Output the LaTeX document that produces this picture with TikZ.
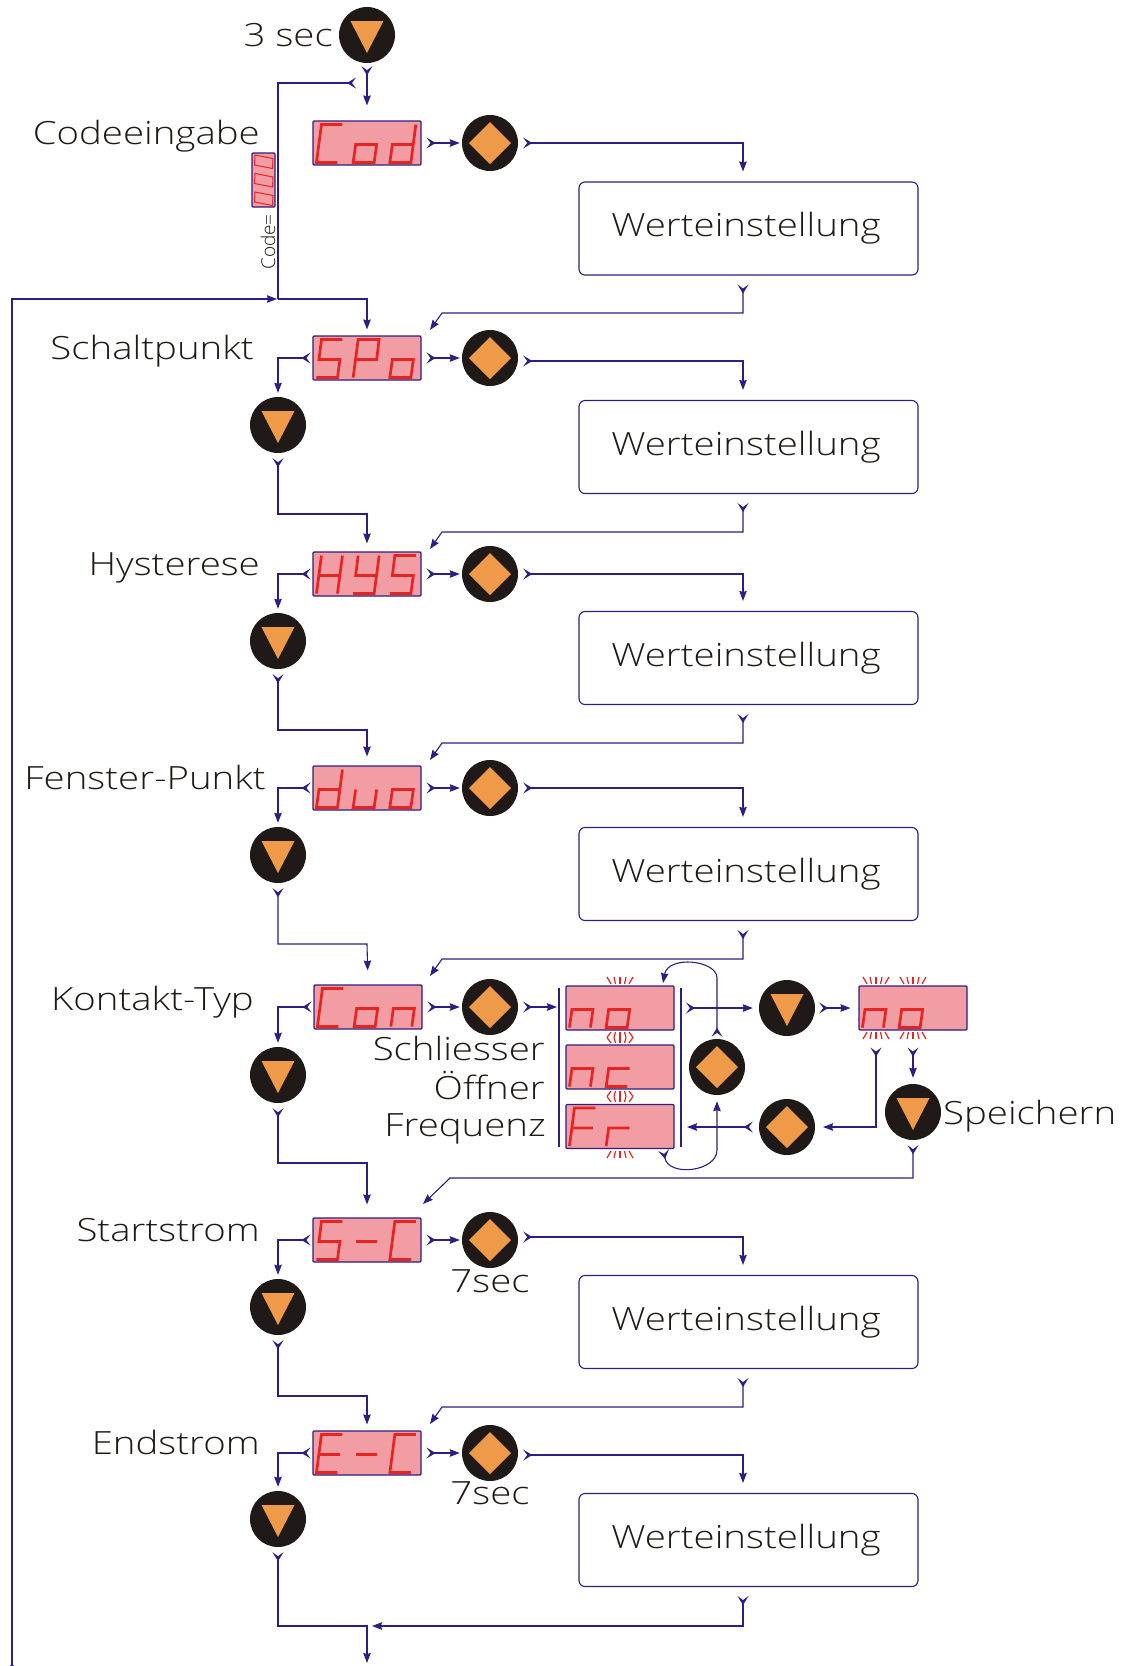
\documentclass[tikz,border=0pt]{standalone}
\usepackage{fontspec}
\setmainfont{Open Sans}[UprightFont=* Light,FakeStretch=1.2]
\newfontfamily\plainfont{Open Sans}[UprightFont=* Light]
\usetikzlibrary{arrows.meta,calc}
\definecolor{navycol}{HTML}{2B1F82}
\definecolor{pinkcol}{HTML}{F29CA3}
\definecolor{segcol}{HTML}{E52521}
\definecolor{markcol}{HTML}{EF9A49}
\definecolor{btncol}{HTML}{1F1A17}
\definecolor{txtcol}{HTML}{1F1A17}
\tikzset{
  tailtip/.tip = {Stealth[reversed,length=9pt,width=11pt,inset=4pt]},
  headtip/.tip = {Stealth[length=10pt,width=7.5pt,inset=1pt]},
  flow/.style = {navycol, line width=1.1pt, tailtip-headtip,
    shorten <=4pt, shorten >=3pt},
  flowhead/.style = {navycol, line width=1.1pt, -headtip, shorten >=3pt},
  flowtail/.style = {navycol, line width=1.1pt, tailtip-, shorten <=4pt},
  dsp/.style = {rectangle, draw=navycol, fill=pinkcol, line width=1.1pt,
    rounded corners=1pt, minimum width=108pt, minimum height=44pt, inner sep=0pt,
    text opacity=0, font=\fontsize{22}{22}\selectfont},
  segline/.style = {segcol, line width=2.7pt},
  blinkline/.style = {segcol, line width=1.2pt},
  btn/.style = {circle, fill=btncol, minimum size=56pt, inner sep=0pt},
  btnset/.style = {btn, path picture={\fill[markcol] (path picture bounding box.center)
    ++(-21,0) -- ++(21,-21) -- ++(21,21) -- ++(-21,21) -- cycle;}},
  btndown/.style = {btn, path picture={\fill[markcol] (path picture bounding box.center)
    ++(-16.5,-14) -- ++(33,0) -- ++(-16.5,32) -- cycle;}},
  box/.style = {rectangle, draw=navycol, line width=1.1pt, rounded corners=6pt,
    minimum width=339pt, minimum height=93pt, inner sep=0pt, text=txtcol,
    font=\fontsize{32}{32}\selectfont},
  lbl/.style = {inner sep=0pt, text=txtcol, font=\fontsize{32}{32}\selectfont}
}
% one digit of a display, corners named for the segments
\newcommand{\segcell}[3]{\begin{scope}[shift={($(#1.south west)+(#2,-3)$)}]
  \coordinate (tl) at (5,-38); \coordinate (tr) at (26,-38);
  \coordinate (ml) at (2.5,-18); \coordinate (mr) at (23.5,-18);
  \coordinate (bl) at (0,0); \coordinate (br) at (21,0);
  \draw[segline] #3;
\end{scope}}
\newcommand{\segword}[4]{\segcell{#1}{4}{#2}\segcell{#1}{40.7}{#3}\segcell{#1}{77.4}{#4}}
\newcommand{\segC}{(tr)--(tl)--(bl)--(br)}
\newcommand{\sego}{(ml)--(mr)--(br)--(bl)--cycle}
\newcommand{\segd}{(tr)--(br)--(bl)--(ml)--(mr)}
\newcommand{\segS}{(tr)--(tl)--(ml)--(mr)--(br)--(bl)}
\newcommand{\segP}{(bl)--(tl)--(tr)--(mr)--(ml)}
\newcommand{\segH}{(tl)--(bl) (tr)--(br) (ml)--(mr)}
\newcommand{\segY}{(tl)--(ml)--(mr) (tr)--(br)--(bl)}
\newcommand{\segu}{(ml)--(bl)--(br)--(mr)}
\newcommand{\segn}{(bl)--(ml)--(mr)--(br)}
\newcommand{\segc}{(mr)--(ml)--(bl)--(br)}
\newcommand{\segF}{(bl)--(tl)--(tr) (ml)--(mr)}
\newcommand{\segr}{(bl)--(ml)--(mr)}
\newcommand{\segE}{(tr)--(tl)--(bl)--(br) (ml)--(mr)}
\newcommand{\segm}{(ml)--(mr)}
% fan of ticks at a display edge: x, y, -1 up or 1 down
\newcommand{\blink}[3]{\foreach \a/\b in {-13/-9,-6/-4.5,0/0,6/4.5,13/9}
  \draw[blinkline] (#1+\b,#2+#3*2) -- (#1+\a,#2+#3*9);}

\begin{document}
\begin{tikzpicture}[x=1pt,y=-1pt]
\useasboundingbox (0,0) rectangle (1124,1666);
\coordinate (wx) at (743,0);
\coordinate (joinpt) at (278,299);
\coordinate (backpt) at (360,83);
\coordinate (exitin) at (12,1672);
\coordinate (exitout) at (367,1666);

% displays
\foreach \r/\x/\y/\t in {Cod/367/143/Cod,SPo/367/358/SPo,HYS/367/574/HYS,duo/367/788/duo,
    Con/368/1007/Con,SC/367/1240/S-C,EC/367/1453/E-C}
  \node[dsp] (dsp\r) at (\x,\y) {\t};
\node[dsp] (dspNo) at (620,1008) {no};
\node[dsp] (dspNc) at (620,1067) {nc};
\node[dsp] (dspFr) at (620,1126.5) {Fr};
\node[dsp] (dspSave) at (913,1008) {no};
\segword{dspCod}{\segC}{\sego}{\segd}
\segword{dspSPo}{\segS}{\segP}{\sego}
\segword{dspHYS}{\segH}{\segY}{\segS}
\segword{dspduo}{\segd}{\segu}{\sego}
\segword{dspCon}{\segC}{\sego}{\segn}
\segword{dspSC}{\segS}{\segm}{\segC}
\segword{dspEC}{\segE}{\segm}{\segC}
\segword{dspNo}{\segn}{\sego}{}
\segword{dspNc}{\segn}{\segc}{}
\segword{dspFr}{\segF}{\segr}{}
\segword{dspSave}{\segn}{\sego}{}

% buttons
\node[btndown] (btnTop) at (367,35) {};
\foreach \r/\y in {Cod/143,SPo/358,HYS/574,duo/788,Con/1007,SC/1240,EC/1453}
  \node[btnset] (btn\r) at (490,\y) {};
\foreach \r/\y in {SPo/425,HYS/641,duo/855,Con/1075,SC/1307,EC/1519}
  \node[btndown] (dwn\r) at (278,\y) {};
\node[btnset] (btnSel) at (717,1067) {};
\node[btndown] (dwnOut) at (787,1008) {};
\node[btnset] (btnBack) at (787,1127) {};
\node[btndown] (dwnSave) at (913,1112) {};

% value boxes
\foreach \r/\y in {Cod/228.5,SPo/447,HYS/658,duo/874,SC/1322,EC/1540}
  \node[box] (box\r) at (748.5,\y) {Werteinstellung\kern5pt};

% small code display
\node[rectangle, draw=navycol, fill=pinkcol, line width=1.1pt, rounded corners=1pt,
  minimum width=23pt, minimum height=54pt, inner sep=0pt] (dspCode) at (263.5,180) {};
\foreach \y in {155,173.5,192}
  \draw[segcol, line width=1pt] (255,\y) -- (273,\y+3.5) -- (272.5,\y+13.5) -- (254.5,\y+10) -- cycle;
\node[inner sep=0pt, rotate=90, text=txtcol, font=\plainfont\fontsize{19}{19}\selectfont]
  (txtCode) at (268,242) {Code=};

% labels
\node[lbl, anchor=base east] (txtSec) at (333,46) {3 sec};
\node[lbl, anchor=base east] (txtCod) at (260,144) {Codeeingabe};
\node[lbl, anchor=base east] (txtSPo) at (254,359) {Schaltpunkt};
\node[lbl, anchor=base east] (txtHYS) at (260,575) {Hysterese};
\node[lbl, anchor=base east] (txtduo) at (266,789) {Fenster-Punkt};
\node[lbl, anchor=base east] (txtCon) at (254,1010) {Kontakt-Typ};
\node[lbl, anchor=base east] (txtNo) at (545,1060) {Schliesser};
\node[lbl, anchor=base east] (txtNc) at (545,1099) {Öffner};
\node[lbl, anchor=base east] (txtFr) at (546,1136) {Frequenz};
\node[lbl, anchor=base west] (txtSave) at (943,1124) {Speichern};
\node[lbl, anchor=base east] (txtSC) at (260,1241) {Startstrom};
\node[lbl, anchor=base east] (txtEC) at (260,1454) {Endstrom};
\node[lbl, anchor=base] (txtSCt) at (490,1292) {7sec};
\node[lbl, anchor=base] (txtECt) at (490,1504) {7sec};

% selection bars
\draw[navycol, line width=1.1pt] (559,988) -- (559,1147);
\draw[navycol, line width=1.1pt] (681,988) -- (681,1147);

% blinking ticks
\blink{620}{986}{-1}
\blink{620}{1149}{1}
\foreach \y in {1030,1089} {
  \foreach \a/\b in {-13/-9,-6/-4.5,0/0,6/4.5,13/9} {
    \draw[blinkline] (620+\b,\y+2) -- (620+\a,\y+7.5);
    \draw[blinkline] (620+\b,\y+13) -- (620+\a,\y+7.5);
  }
}
\blink{876}{986}{-1}
\blink{913}{986}{-1}
\blink{876}{1030}{1}
\blink{913}{1030}{1}

% rows: display, button, value box and back
\draw[flow, shorten <=3pt, shorten >=15pt] (btnTop.south) -- (dspCod.north);
\foreach \r/\dy/\yr in {Cod/0/313,SPo/3/532,HYS/0/743,duo/0/959,SC/-3/1407,EC/2/1626} {
  \draw[flow, shorten <=5pt, shorten >=2pt] (dsp\r.east) -- (btn\r.west);
  \draw[flow, shorten <=5pt, shorten >=10pt] ($(btn\r.east)+(0,\dy)$) -| (box\r.north -| wx);
}
\foreach \r/\yr in {Cod/313,SPo/532,HYS/743,duo/959,SC/1407}
  \draw[flow, shorten <=9pt, shorten >=0pt] (box\r.south -| wx) |- (442,\yr) -- ++(-12,17);
\foreach \r/\n/\ym/\g in {SPo/HYS/514/8,HYS/duo/730/9,duo/Con/944/14,Con/SC/1163/13,SC/EC/1396/6}
  \draw[flow, shorten <=5pt, shorten >=\g pt] (dwn\r.south) |- (367,\ym) -- (dsp\n.north);
\foreach \r in {SPo,HYS,duo,Con,SC,EC}
  \draw[flow, shorten <=2pt, shorten >=4pt] (dsp\r.west) -| (dwn\r.north);

% way in, way out
\draw[flowtail] (backpt) -| (joinpt);
\draw[flowhead, shorten >=6pt] (joinpt) -| (dspSPo.north);
\draw[flow, shorten <=0pt, shorten >=1pt] (exitin) |- (joinpt);
\draw[flow, shorten <=5pt, shorten >=3pt] (dwnEC.south) |- (367,1626) -- (exitout);
\draw[flow, shorten <=9pt, shorten >=0pt] (boxEC.south -| wx) |- (372,1626);

% contact type row
\draw[flow, shorten <=5pt, shorten >=2pt] (dspCon.east) -- (btnCon.west);
\draw[flow, shorten <=5pt, shorten >=2pt] (btnCon.east) -- (559,1007);
\draw[flow, shorten <=5pt, shorten >=6pt] (681,1008) -- (dwnOut.west);
\draw[flow, shorten <=4pt, shorten >=8pt] (dwnOut.east) -- (dspSave.west);
\draw[flow, shorten <=17pt, shorten >=0pt] (dspSave.south -| 876,0) |- (823,1127);
\draw[flow, shorten <=17pt, shorten >=6pt] (dspSave.south) -- (dwnSave.north);
\draw[flow, shorten <=6pt, shorten >=6pt] (btnBack.west) -- (681,1127);
\draw[flow, shorten <=2pt, shorten >=0pt] (btnSel.north) -- (717,978)
  .. controls (717,960) and (668,955) .. (663,983);
\draw[flow, shorten <=0pt, shorten >=6pt] ($(dspFr.south east)+(-11,1)$)
  .. controls (668,1177) and (717,1172) .. (717,1150) -- (btnSel.south);
\draw[flow, shorten <=5pt, shorten >=0pt] (dwnSave.south) |- (450,1178) -- ++(-27,26);
\end{tikzpicture}
\end{document}
